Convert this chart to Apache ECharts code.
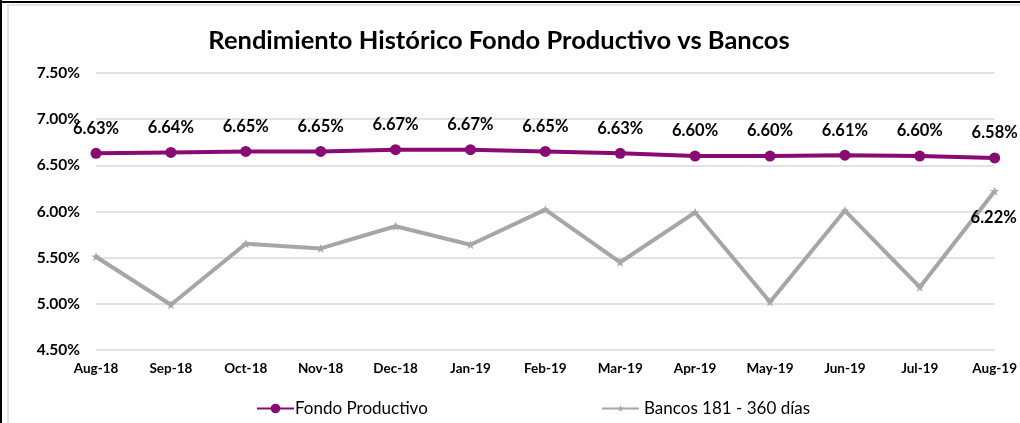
<!DOCTYPE html>
<html>
<head>
<meta charset="utf-8">
<script src="https://cdn.jsdelivr.net/npm/echarts@6/dist/echarts.min.js"></script>
<style>
  html, body { margin: 0; padding: 0; background: #fff; }
  #wrap { position: relative; width: 1020px; height: 423px; overflow: hidden; }
  #chart { position: absolute; left: 0; top: 0; width: 1020px; height: 423px; }
  .edgeL { position: absolute; left: 0; top: 0; width: 2px; height: 423px; background: #000; }
  .edgeT { position: absolute; left: 0; top: 1px; width: 1020px; height: 2px; background: #000; }
  .frameL { position: absolute; left: 7px; top: 4px; width: 2px; height: 419px; background: #e3e3e3; }
  .frameT { position: absolute; left: 7px; top: 4px; width: 1013px; height: 2px; background: #e3e3e3; }
</style>
</head>
<body>
<div id="wrap">
  <div id="chart"></div>
  <div class="edgeL"></div><div class="edgeT"></div>
  <div class="frameL"></div><div class="frameT"></div>
</div>
<script>
const categories = ["Aug-18","Sep-18","Oct-18","Nov-18","Dec-18","Jan-19","Feb-19","Mar-19","Apr-19","May-19","Jun-19","Jul-19","Aug-19"];
const fondoProductivo = [6.63, 6.64, 6.65, 6.65, 6.67, 6.67, 6.65, 6.63, 6.60, 6.60, 6.61, 6.60, 6.58];
const bancos = [5.51, 4.99, 5.65, 5.60, 5.84, 5.64, 6.02, 5.45, 5.99, 5.02, 6.01, 5.18, 6.22];
const yTicks = { min: 4.5, max: 7.5, interval: 0.5 };
const titleText = "Rendimiento Histórico Fondo Productivo vs Bancos";

const FONT = "Lato, 'Open Sans', sans-serif";
const chart = echarts.init(document.getElementById('chart'), null, { renderer: 'canvas' });
chart.setOption({
  backgroundColor: 'transparent',
  animation: false,
  title: {
    text: titleText,
    left: 494, top: 23, textAlign: 'center',
    textStyle: { fontFamily: FONT, fontWeight: 'bold', fontSize: 25.5, color: '#000' }
  },
  legend: [
    {
      data: ['Fondo Productivo'], left: 251, top: 395, itemWidth: 37, itemHeight: 12, itemGap: 4,
      textStyle: { fontFamily: FONT, fontSize: 17, color: '#000', padding: [0,0,0,-4] }
    },
    {
      data: ['Bancos 181 - 360 días'], left: 596, top: 395, itemWidth: 37, itemHeight: 8, itemGap: 4,
      textStyle: { fontFamily: FONT, fontSize: 17, color: '#000' }
    }
  ],
  grid: { left: 96, right: 23, top: 73, bottom: 73, containLabel: false },
  xAxis: {
    type: 'category', data: categories, boundaryGap: false,
    axisLine: { show: false }, axisTick: { show: false },
    axisLabel: { fontFamily: FONT, fontWeight: 'bold', fontSize: 13.5, color: '#000', margin: 12 }
  },
  yAxis: {
    type: 'value', min: yTicks.min, max: yTicks.max, interval: yTicks.interval,
    axisLine: { show: false }, axisTick: { show: false },
    splitLine: { lineStyle: { color: '#d9d9d9', width: 1.5 } },
    axisLabel: { fontFamily: FONT, fontWeight: 'bold', fontSize: 15.5, color: '#000', margin: 16,
      formatter: v => v.toFixed(2) + '%' }
  },
  series: [
    {
      name: 'Fondo Productivo', type: 'line', data: fondoProductivo,
      symbol: 'circle', symbolSize: 11,
      lineStyle: { color: '#880a73', width: 4 },
      itemStyle: { color: '#880a73' },
      label: { show: true, position: 'top', distance: 11, fontFamily: FONT, fontWeight: 'bold', fontSize: 16.5, color: '#000',
        formatter: p => p.value.toFixed(2) + '%' },
      z: 3
    },
    {
      name: 'Bancos 181 - 360 días', type: 'line', data: bancos,
      symbol: 'path://M0,-10 L3,-3 L10,-3 L4,1.5 L6.5,9 L0,4.5 L-6.5,9 L-4,1.5 L-10,-3 L-3,-3 Z', symbolSize: 9,
      lineStyle: { color: '#a6a6a6', width: 4 },
      itemStyle: { color: '#a6a6a6' },
      label: { show: true, position: 'bottom', distance: 8, offset: [-1, 5], fontFamily: FONT, fontWeight: 'bold', fontSize: 16.5, color: '#000',
        formatter: p => p.dataIndex === bancos.length - 1 ? p.value.toFixed(2) + '%' : '' },
      z: 2
    }
  ]
});
</script>
</body>
</html>
